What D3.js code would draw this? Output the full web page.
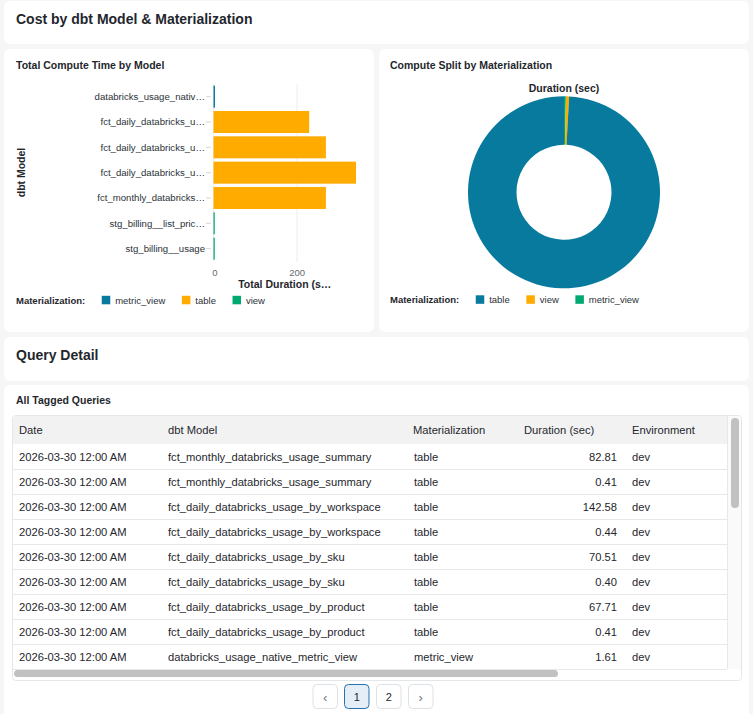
<!DOCTYPE html>
<html><head><meta charset="utf-8">
<script src="https://cdn.jsdelivr.net/npm/d3@7"></script>
<style>
html,body{margin:0;padding:0;background:#f6f6f6;}
svg{display:block;font-family:"Liberation Sans",Helvetica,Arial,sans-serif;}
</style></head><body>
<svg id="c" width="753" height="714"></svg>
<script>
// ---------- data ----------
const modelNames = ["databricks_usage_native_metric_view","fct_daily_databricks_usage_by_product","fct_daily_databricks_usage_by_sku","fct_daily_databricks_usage_by_workspace","fct_monthly_databricks_usage_summary","stg_billing__list_prices","stg_billing__usage"];
const modelMaterialization = ["metric_view","table","table","table","table","view","view"];
const modelDurations = [3.5, 229, 269, 341, 269, 3, 3];
const barLegendOrder = ["metric_view","table","view"];
const xTickValues = [0, 200];

const donutOrder = ["table","view","metric_view"];
const donutDurations = [1108, 6, 3.5];

const tableColumns = ["Date","dbt Model","Materialization","Duration (sec)","Environment"];
const queryDates = ["2026-03-30 12:00 AM","2026-03-30 12:00 AM","2026-03-30 12:00 AM","2026-03-30 12:00 AM","2026-03-30 12:00 AM","2026-03-30 12:00 AM","2026-03-30 12:00 AM","2026-03-30 12:00 AM","2026-03-30 12:00 AM"];
const queryModels = ["fct_monthly_databricks_usage_summary","fct_monthly_databricks_usage_summary","fct_daily_databricks_usage_by_workspace","fct_daily_databricks_usage_by_workspace","fct_daily_databricks_usage_by_sku","fct_daily_databricks_usage_by_sku","fct_daily_databricks_usage_by_product","fct_daily_databricks_usage_by_product","databricks_usage_native_metric_view"];
const queryMaterializations = ["table","table","table","table","table","table","table","table","metric_view"];
const queryDurations = [82.81, 0.41, 142.58, 0.44, 70.51, 0.40, 67.71, 0.41, 1.61];
const queryEnvs = ["dev","dev","dev","dev","dev","dev","dev","dev","dev"];
const pages = ["‹","1","2","›"];

const palette = ["#077A9D","#FFAB00","#00A972"];
const TXT = "#1f272d";

// ---------- helpers ----------
const svg = d3.select("#c");
svg.append("rect").attr("width",753).attr("height",714).attr("fill","#f6f6f6");
function card(x,y,w,h){ svg.append("rect").attr("x",x).attr("y",y).attr("width",w).attr("height",h).attr("rx",6).attr("fill","#fff"); }
function text(x,y,s,opt={}){
  return svg.append("text").attr("x",x).attr("y",y).attr("dominant-baseline","central")
    .attr("font-size",opt.size||10).attr("font-weight",opt.weight||"normal")
    .attr("fill",opt.fill||TXT).attr("text-anchor",opt.anchor||"start").text(s);
}
const trunc = (s,n) => s.length > n+1 ? s.slice(0,n) + "…" : s;

card(4,1,745,43); card(4,49,370,283); card(379,49,370,283); card(4,337,745,44); card(4,385,745,340);

text(16,19,"Cost by dbt Model & Materialization",{size:14,weight:"bold"});

// ---------- bar chart ----------
text(16,64.5,"Total Compute Time by Model",{size:10.5,weight:"bold"});
const x = d3.scaleLinear().domain([0, d3.max(modelDurations)]).range([213.5, 356]);
const y = d3.scaleBand().domain(modelNames).range([84, 261.3]).paddingInner(0.13).paddingOuter(0.065);
const c1 = d3.scaleOrdinal().domain(barLegendOrder).range(palette);

const g = svg.append("g");
g.selectAll("line.grid").data(xTickValues).join("line")
  .attr("x1",d=>x(d)).attr("x2",d=>x(d)).attr("y1",84).attr("y2",262)
  .attr("stroke","#ececec").attr("stroke-width",1);
g.selectAll("rect.bar").data(modelNames).join("rect")
  .attr("x",x(0)).attr("y",d=>y(d)).attr("height",y.bandwidth())
  .attr("width",(d,i)=>x(modelDurations[i])-x(0))
  .attr("fill",(d,i)=>c1(modelMaterialization[i]));
g.selectAll("line.tick").data(modelNames).join("line")
  .attr("x1",206).attr("x2",211).attr("y1",d=>y(d)+y.bandwidth()/2).attr("y2",d=>y(d)+y.bandwidth()/2)
  .attr("stroke","#d6d6d6");
modelNames.forEach(m => text(205, y(m)+y.bandwidth()/2, trunc(m,22), {size:9.6,anchor:"end",fill:"#2b3238"}));
xTickValues.forEach(t => text(x(t)+(t===0?1.5:0), 272.5, String(t), {size:9.5,anchor:"middle",fill:"#5f6b74"}));
text((x.range()[0]+x.range()[1])/2, 283.5, trunc("Total Duration (sec)",17), {size:10.5,weight:"bold",anchor:"middle"});
svg.append("text").attr("transform","translate(21,172.5) rotate(-90)").attr("dominant-baseline","central")
  .attr("text-anchor","middle").attr("font-size",10.5).attr("font-weight","bold").attr("fill",TXT).text("dbt Model");

function legend(x0, yc, names, colorFn){
  const t = text(x0, yc, "Materialization:", {size:9.5,weight:"bold"});
  let sx = x0 + t.node().getComputedTextLength() + 16.6;
  names.forEach(n => {
    svg.append("rect").attr("x",sx).attr("y",yc-4.2).attr("width",8.5).attr("height",8.5).attr("fill",colorFn(n));
    const lt = text(sx+13.4, yc, n, {size:9.5,fill:"#2b3238"});
    sx = sx + 13.4 + lt.node().getComputedTextLength() + 16.6;
  });
}
legend(16, 300, barLegendOrder, c1);

// ---------- donut ----------
text(390,64.5,"Compute Split by Materialization",{size:10.5,weight:"bold"});
const c2 = d3.scaleOrdinal().domain(donutOrder).range(palette);
text(564, 87.5, "Duration (sec)", {size:10.5,weight:"bold",anchor:"middle"});
const pieData = donutOrder.map((n,i)=>({name:n, value:donutDurations[i]})).reverse();
const pie = d3.pie().sort(null).value(d=>d.value);
const arc = d3.arc().innerRadius(47.5).outerRadius(96);
svg.append("g").attr("transform","translate(564,192.3)")
  .selectAll("path").data(pie(pieData)).join("path")
  .attr("d",arc).attr("fill",d=>c2(d.data.name));
legend(390, 299.5, donutOrder, c2);

// ---------- query detail ----------
text(16,354.5,"Query Detail",{size:14,weight:"bold"});
text(16,400,"All Tagged Queries",{size:10.5,weight:"bold"});

const TS = 11.2;
const tb = svg.append("g");
tb.append("rect").attr("x",12.5).attr("y",415.5).attr("width",729).attr("height",265).attr("rx",3)
  .attr("fill","#fff").attr("stroke","#e4e7ea");
tb.append("rect").attr("x",13).attr("y",416).attr("width",714).attr("height",28).attr("fill","#f2f2f2");
const colX = [19, 168, 414, 617, 632];
const colAnchor = ["start","start","start","end","start"];
const headX = [19, 168, 413, 524, 632];
tableColumns.forEach((c,i)=> text(headX[i], 430, c, {size:TS}));
const rowTop = 444, rowH = 25;
queryDates.forEach((d,i)=>{
  const yc = rowTop + rowH*i + rowH/2;
  const vals = [d, queryModels[i], queryMaterializations[i], d3.format(".2f")(queryDurations[i]), queryEnvs[i]];
  vals.forEach((v,j)=> text(colX[j], yc, v, {size:TS, anchor:colAnchor[j]}));
  tb.append("line").attr("x1",13).attr("x2",727).attr("y1",rowTop+rowH*(i+1)+0.5).attr("y2",rowTop+rowH*(i+1)+0.5)
    .attr("stroke","#e6e9ec");
});
tb.append("line").attr("x1",727.5).attr("x2",727.5).attr("y1",416).attr("y2",669).attr("stroke","#e6e9ec");
tb.append("rect").attr("x",728).attr("y",416).attr("width",13).attr("height",253).attr("fill","#fafafa");
tb.append("rect").attr("x",731).attr("y",418).attr("width",8).attr("height",90).attr("rx",4).attr("fill","#c1c1c1");
tb.append("rect").attr("x",14).attr("y",670).attr("width",544).attr("height",7).attr("rx",3.5).attr("fill","#c1c1c1");

// pagination
const pgX = [313, 344.5, 376.5, 408.5];
pages.forEach((p,i)=>{
  const active = p === "1";
  svg.append("rect").attr("x",pgX[i]).attr("y",684.5).attr("width",24.5).attr("height",24).attr("rx",4)
    .attr("fill", active ? "#e5eef6" : "#fff").attr("stroke", active ? "#2272b4" : "#dde2e6");
  text(pgX[i]+12.25, 697, p, {size: (p==="1"||p==="2") ? 11 : 13, anchor:"middle", fill: (p==="‹"||p==="›") ? "#6b7780" : TXT});
});
</script>
</body></html>
